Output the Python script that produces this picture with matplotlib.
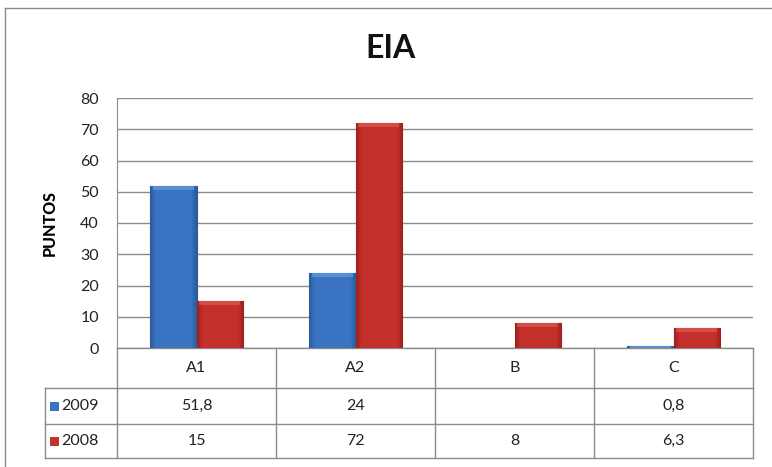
import matplotlib
matplotlib.use("Agg")
import matplotlib.pyplot as plt
from matplotlib.lines import Line2D
from matplotlib.patches import Rectangle
import matplotlib.transforms as mtrans
import matplotlib.colors as mcolors
import numpy as np

categories = ["A1", "A2", "B", "C"]
series_names = ["2009", "2008"]
values_2009 = [51.8, 24, np.nan, 0.8]
values_2008 = [15, 72, 8, 6.3]
labels_2009 = ["51,8", "24", "", "0,8"]
labels_2008 = ["15", "72", "8", "6,3"]
yticks = [0, 10, 20, 30, 40, 50, 60, 70, 80]

plt.rcParams['font.family'] = ['Lato', 'DejaVu Sans']

W, H = 772, 467
fig = plt.figure(figsize=(W / 100, H / 100), dpi=100)
fig.patch.set_facecolor("white")

# outer frame (top and left)
fig.add_artist(Line2D([5 / W, 1], [1 - 8 / H, 1 - 8 / H], transform=fig.transFigure, color="#8a8a8a", lw=1))
fig.add_artist(Line2D([5 / W, 5 / W], [0, 1 - 8 / H], transform=fig.transFigure, color="#8a8a8a", lw=1))

left, right, top, bottom = 117, 753, 98, 348
ax = fig.add_axes([left / W, (H - bottom) / H, (right - left) / W, (bottom - top) / H])

x = np.arange(len(categories))
bw = 0.29
c_blue = "#3a74c2"
c_red = "#c4302b"
bars_b = ax.bar(x - bw / 2, values_2009, width=bw, color=c_blue, edgecolor="#2a5a9a", linewidth=0.8, zorder=3)
bars_r = ax.bar(x + bw / 2, values_2008, width=bw, color=c_red, edgecolor="#8f1f1c", linewidth=0.8, zorder=3)

ax.set_xlim(-0.5, len(categories) - 0.5)
ax.set_ylim(0, 80)

# subtle bevel-like shading inside each bar
def shade(bars, dark, mid, light):
    cmap = mcolors.LinearSegmentedColormap.from_list(
        "g", [(0, dark), (0.12, mid), (0.5, mid), (0.88, mid), (1, dark)])
    grad = np.linspace(0, 1, 64).reshape(1, -1)
    for b in bars:
        h = b.get_height()
        if not np.isfinite(h) or h <= 0:
            continue
        x0 = b.get_x()
        w = b.get_width()
        im = ax.imshow(grad, cmap=cmap, extent=(x0, x0 + w, 0, h), aspect="auto",
                       interpolation="bicubic", zorder=3.5)
        im.set_clip_path(b)
        cap = min(h, 1.3)
        ax.add_patch(Rectangle((x0 + w * 0.06, h - cap), w * 0.88, cap, facecolor=light, alpha=0.6,
                               edgecolor="none", zorder=3.6))

shade(bars_b, "#2b5c9e", "#3a74c2", "#6ea2e0")
shade(bars_r, "#9c211d", "#c4302b", "#e0625c")
ax.set_xlim(-0.5, len(categories) - 0.5)
ax.set_ylim(0, 80)

ax.set_yticks(yticks)
ax.set_yticklabels([str(t) for t in yticks], fontsize=11.5, color="#222222")
ax.tick_params(axis="y", length=0, pad=13)
ax.tick_params(axis="x", length=0, labelbottom=False)
ax.yaxis.grid(True, color="#8c8c8c", linewidth=1, zorder=0)
for s in ["top", "right", "bottom"]:
    ax.spines[s].set_visible(False)
ax.spines["left"].set_color("#8c8c8c")
ax.set_axisbelow(True)

ax.set_ylabel("PUNTOS", fontsize=11.5, fontweight="black", labelpad=16)
fig.text(390 / W, 1 - 48 / H, "EIA", ha="center", va="center", fontsize=23, fontweight="bold", color="#111111")

# data table below the axes
trans = mtrans.blended_transform_factory(ax.transData, ax.transAxes)
ph = bottom - top
def ay(py):
    return (bottom - py) / ph

y_head_top, y_r1, y_r2, y_bot = ay(348), ay(388), ay(424), ay(458)
unit = (right - left) / len(categories)
x_tab_left = -0.5 - (left - 45) / unit
lc = "#8c8c8c"
kw = dict(transform=trans, color=lc, lw=1, clip_on=False)
ax.add_line(Line2D([-0.5, 3.5], [y_head_top, y_head_top], **kw))
for yy in (y_r1, y_r2, y_bot):
    ax.add_line(Line2D([x_tab_left, 3.5], [yy, yy], **kw))
for xv in [0.5, 1.5, 2.5, 3.5, -0.5]:
    ax.add_line(Line2D([xv, xv], [y_head_top, y_bot], **kw))
ax.add_line(Line2D([x_tab_left, x_tab_left], [y_r1, y_bot], **kw))

tk = dict(transform=trans, ha="center", va="center", fontsize=11.5, color="#222222", clip_on=False)
for i, c in enumerate(categories):
    ax.text(i, (y_head_top + y_r1) / 2, c, **tk)
    ax.text(i, (y_r1 + y_r2) / 2, labels_2009[i], **tk)
    ax.text(i, (y_r2 + y_bot) / 2, labels_2008[i], **tk)

for name, col, (ya, yb) in [(series_names[0], c_blue, (y_r1, y_r2)), (series_names[1], c_red, (y_r2, y_bot))]:
    xm = -0.5 - (left - 50) / unit
    sq_w = 9 / unit
    sq_h = 9 / ph
    ymid = (ya + yb) / 2
    ax.add_patch(Rectangle((xm, ymid - sq_h / 2), sq_w, sq_h, transform=trans, facecolor=col,
                           edgecolor="none", clip_on=False))
    ax.text(-0.5 - (left - 61) / unit, ymid, name, transform=trans, ha="left", va="center",
            fontsize=11.5, color="#222222", clip_on=False)

fig.savefig("out.png", dpi=100)
